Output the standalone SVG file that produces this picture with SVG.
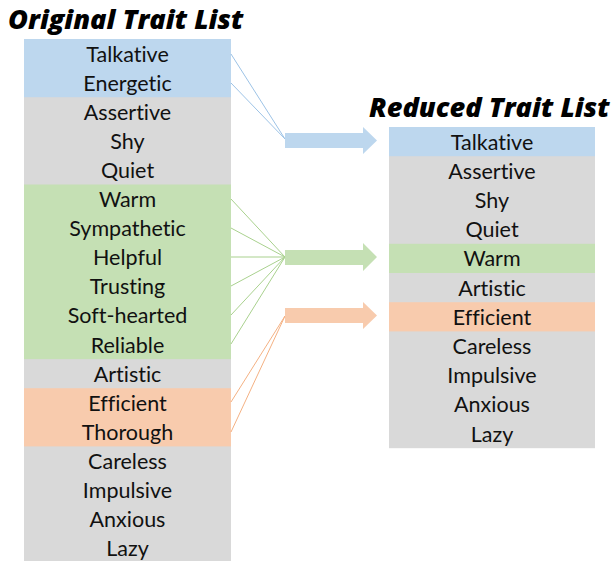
<svg xmlns="http://www.w3.org/2000/svg" width="615" height="561" viewBox="0 0 615 561">
<style>
.t{font-family:Lato,"Open Sans","Liberation Sans",sans-serif;font-size:21.5px;fill:#111;text-anchor:middle;font-variant-ligatures:none}
.h{font-family:"Open Sans","Liberation Sans",sans-serif;font-size:27.2px;font-weight:800;font-style:italic;fill:#000}
.b{fill:#BDD7EE}.g{fill:#D9D9D9}.gr{fill:#C5E0B4}.o{fill:#F8CBAD}
.lb{stroke:#9DC3E6;stroke-width:1;fill:none}.lg{stroke:#A9D18E;stroke-width:1;fill:none}.lo{stroke:#F4B183;stroke-width:1;fill:none}
</style>
<rect width="615" height="561" fill="#fff"/>
<text class="h" x="8" y="29">Original Trait List</text>
<text class="h" x="369" y="117">Reduced Trait List</text>
<g id="original">
<rect class="g" x="24" y="39" width="207" height="524"/>
<rect class="b" x="24" y="39" width="207" height="58.2"/>
<rect class="gr" x="24" y="184.5" width="207" height="174.6"/>
<rect class="o" x="24" y="388.2" width="207" height="58.2"/>
<text class="t" x="127.5" y="61.5">Talkative</text>
<text class="t" x="127.5" y="90.6">Energetic</text>
<text class="t" x="127.5" y="119.7">Assertive</text>
<text class="t" x="127.5" y="148.8">Shy</text>
<text class="t" x="127.5" y="177.9">Quiet</text>
<text class="t" x="127.5" y="207">Warm</text>
<text class="t" x="127.5" y="236.1">Sympathetic</text>
<text class="t" x="127.5" y="265.2">Helpful</text>
<text class="t" x="127.5" y="294.3">Trusting</text>
<text class="t" x="127.5" y="323.4">Soft-hearted</text>
<text class="t" x="127.5" y="352.5">Reliable</text>
<text class="t" x="127.5" y="381.6">Artistic</text>
<text class="t" x="127.5" y="410.7">Efficient</text>
<text class="t" x="127.5" y="439.8">Thorough</text>
<text class="t" x="127.5" y="468.9">Careless</text>
<text class="t" x="127.5" y="498">Impulsive</text>
<text class="t" x="127.5" y="527.1">Anxious</text>
<text class="t" x="127.5" y="556.2">Lazy</text>
</g>
<g id="reduced">
<rect class="g" x="389" y="127" width="206" height="321.2"/>
<rect class="b" x="389" y="127" width="206" height="29.2"/>
<rect class="gr" x="389" y="243.8" width="206" height="29.2"/>
<rect class="o" x="389" y="302.2" width="206" height="29.2"/>
<text class="t" x="492" y="149.6">Talkative</text>
<text class="t" x="492" y="178.8">Assertive</text>
<text class="t" x="492" y="208">Shy</text>
<text class="t" x="492" y="237.2">Quiet</text>
<text class="t" x="492" y="266.4">Warm</text>
<text class="t" x="492" y="295.6">Artistic</text>
<text class="t" x="492" y="324.8">Efficient</text>
<text class="t" x="492" y="354">Careless</text>
<text class="t" x="492" y="383.2">Impulsive</text>
<text class="t" x="492" y="412.4">Anxious</text>
<text class="t" x="492" y="441.6">Lazy</text>
</g>
<g id="connectors">
<path class="lb" d="M231 54 L285 139 M231 83 L285 139"/>
<path class="lg" d="M231 199 L285 257 M231 228 L285 257 M231 257 L285 257 M231 286 L285 257 M231 315 L285 257 M231 344 L285 257"/>
<path class="lo" d="M231 402 L285 316 M231 432 L285 316"/>
<polygon fill="#BDD7EE" points="285,133 363,133 363,127 377,140.5 363,154 363,148 285,148"/>
<polygon fill="#C5E0B4" points="285,250 363,250 363,243 377,257 363,271 363,265 285,265"/>
<polygon fill="#F8CBAD" points="285,308 363,308 363,302 377,315.5 363,329 363,323 285,323"/>
</g>
</svg>
